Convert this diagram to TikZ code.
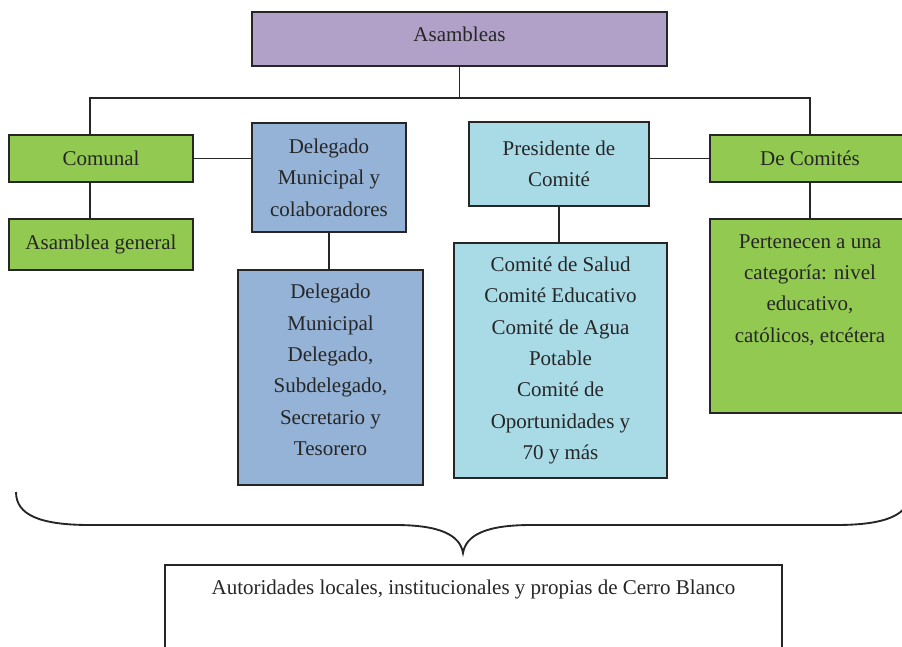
\documentclass[tikz,border=0pt]{standalone}
\usepackage{fontspec}
\setmainfont{Liberation Serif}
\usetikzlibrary{positioning}
\definecolor{asampurple}{HTML}{B1A0C7}
\definecolor{comgreen}{HTML}{92C951}
\definecolor{delblue}{HTML}{95B3D7}
\definecolor{prescyan}{HTML}{A9DBE7}

\begin{document}
\begin{tikzpicture}[
    x=0.75pt, y=-0.75pt,
    box/.style ={draw=black!85, line width=1.5pt, align=center, inner sep=2pt,
                 font=\fontsize{15.75}{23.5}\selectfont, text=black!85},
    txt/.style ={align=center, inner sep=0pt,
                 font=\fontsize{15.75}{23.5}\selectfont, text=black!85},
    conn/.style={draw=black!85, line width=1.4pt}
]
\useasboundingbox (0,0) rectangle (902,646);
\clip (0,0) rectangle (902,646);

% top
\node[box, fill=asampurple, minimum width=311.25pt, minimum height=40.5pt] (asam) at (459.5,39) {};
\node[txt, below=12pt of asam.north] (asamtxt) {Asambleas};
\coordinate (busL) at (90,98);
\coordinate (busR) at (810,98);

% comunal branch
\node[box, fill=comgreen, minimum width=138pt, minimum height=35.25pt] (comunal) at (101,158.5) {Comunal};
\node[box, fill=comgreen, minimum width=138pt, minimum height=38.25pt] (asamgen) at (101,244.5) {Asamblea general};

% delegado
\node[box, fill=delblue, minimum width=115.5pt, minimum height=81.75pt] (deleg) at (329,177.5)
  {Delegado\\Municipal y\\colaboradores};
\node[box, fill=delblue, minimum width=138.75pt, minimum height=161.25pt] (delegmun) at (330.5,377.5) {};
\node[txt, below=11.25pt of delegmun.north] (delegtxt)
  {Delegado\\Municipal\\Delegado,\\Subdelegado,\\Secretario y\\Tesorero};

% presidente
\node[box, fill=prescyan, minimum width=135pt, minimum height=63pt] (pres) at (559,164)
  {Presidente de\\Comité};
\node[box, fill=prescyan, minimum width=159.75pt, minimum height=176.25pt] (comlist) at (560.5,360.5)
  {Comité de Salud\\Comité Educativo\\Comité de Agua\\Potable\\Comité de\\Oportunidades y\\70 y más};

% de comites branch
\node[box, fill=comgreen, minimum width=150pt, minimum height=35.25pt] (comites) at (810,158.5) {De Comités};
\node[box, fill=comgreen, minimum width=150pt, minimum height=145.5pt] (pert) at (810,316) {};
\node[txt, below=12pt of pert.north] (perttxt)
  {Pertenecen a una\\categoría: nivel\\educativo,\\católicos, etcétera};

% connectors
\draw[conn] (asam.south) -- (asam.south |- busL);
\draw[conn] (comunal.north -| busL) -- (busL) -- (busR) -- (comites.north);
\draw[conn] (comunal.south -| busL) -- (asamgen.north -| busL);
\draw[conn] (comunal.east) -- (comunal.east -| deleg.west);
\draw[conn] (deleg.south) -- (deleg.south |- delegmun.north);
\draw[conn] (pres.south) -- (pres.south |- comlist.north);
\draw[conn] (comites.west) -- (comites.west -| pres.east);
\draw[conn] (comites.south) -- (pert.north);

% brace
\draw[conn] (16,492) .. controls (16,515) and (40,525) .. (90,525) -- (395,525)
  .. controls (440,525) and (460,535) .. (463,553)
  .. controls (466,535) and (486,525) .. (531,525) -- (836,525)
  .. controls (886,525) and (910,515) .. (910,492);

% bottom
\node[box, fill=white, line width=1.2pt, minimum width=462.75pt, minimum height=101.25pt] (autor) at (473.5,632.5) {};
\node[txt, below=11.25pt of autor.north] (autortxt)
  {Autoridades locales, institucionales y propias de Cerro Blanco};
\end{tikzpicture}
\end{document}
